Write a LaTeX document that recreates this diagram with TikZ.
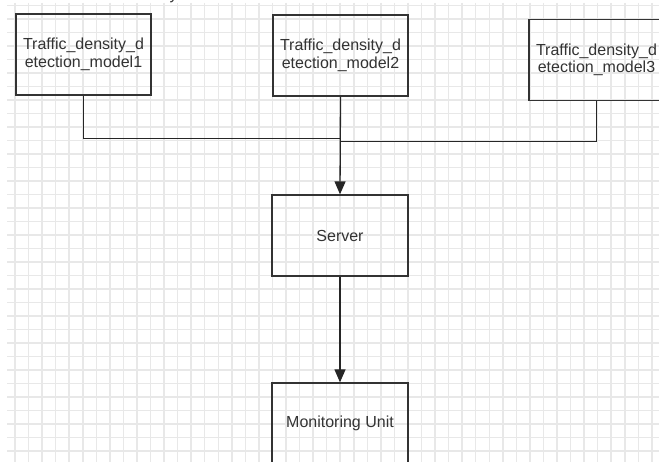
\documentclass[tikz,border=0pt]{standalone}
\usepackage{fontspec}
\setmainfont{Liberation Sans}
\usetikzlibrary{arrows.meta}
\definecolor{gridgray}{HTML}{E8E8E8}
\definecolor{ink}{HTML}{333333}
% the real underscore glyph of the font
\newcommand{\us}{\symbol{"5F}}
\begin{document}
\begin{tikzpicture}[x=1pt,y=-1pt,
  box/.style={draw=ink,line width=1.3pt,rectangle,inner sep=0pt,
    minimum width=135pt,minimum height=81pt,align=center,
    font=\fontsize{16pt}{17.5pt}\selectfont,text=ink},
  conn/.style={draw=black!85,line width=1.3pt},
  arr/.style={conn,-{Triangle[length=13pt,width=11pt]}}]
\useasboundingbox (0,0) rectangle (659,462);
\clip (0,0) rectangle (659,462);
\fill[white] (0,0) rectangle (659,462);
% background grid
\foreach \i in {0,...,47}
  \draw[gridgray,line width=1.5pt] ({15+13.55*\i},3) -- ({15+13.55*\i},462);
\foreach \j in {0,...,33}
  \draw[gridgray,line width=1.5pt] (7,{5.5+13.5*\j}) -- (659,{5.5+13.5*\j});
% cut-off caption at the top edge
\node[anchor=base west,inner sep=0pt,font=\fontsize{16pt}{17.5pt}\selectfont,text=ink] (cap) at (169.5,-0.8) {y};
% detection models
\node[box] (m1) at (83.5,54.4) {Traffic\us density\us d\\etection\us model1};
\node[box] (m2) at (340.5,55.5) {Traffic\us density\us d\\etection\us model2};
\node[box] (m3) at (596.5,59.7) {Traffic\us density\us d\\etection\us model3};
% server and monitoring unit
\node[box,minimum width=136pt] (server) at (340,235.5) {Server};
\node[box,minimum width=136pt] (monitor) at (340,423.5) {Monitoring Unit};
% bus joints
\coordinate (j1) at (340,138.3);
\coordinate (j3) at (340,141.3);
\draw[conn] (m1.south) |- (j1);
\draw[conn] (m3.south) |- (j3);
\draw[arr] (m2.south) -- (server.north);
\draw[arr] (server.south) -- (monitor.north);
\end{tikzpicture}
\end{document}
